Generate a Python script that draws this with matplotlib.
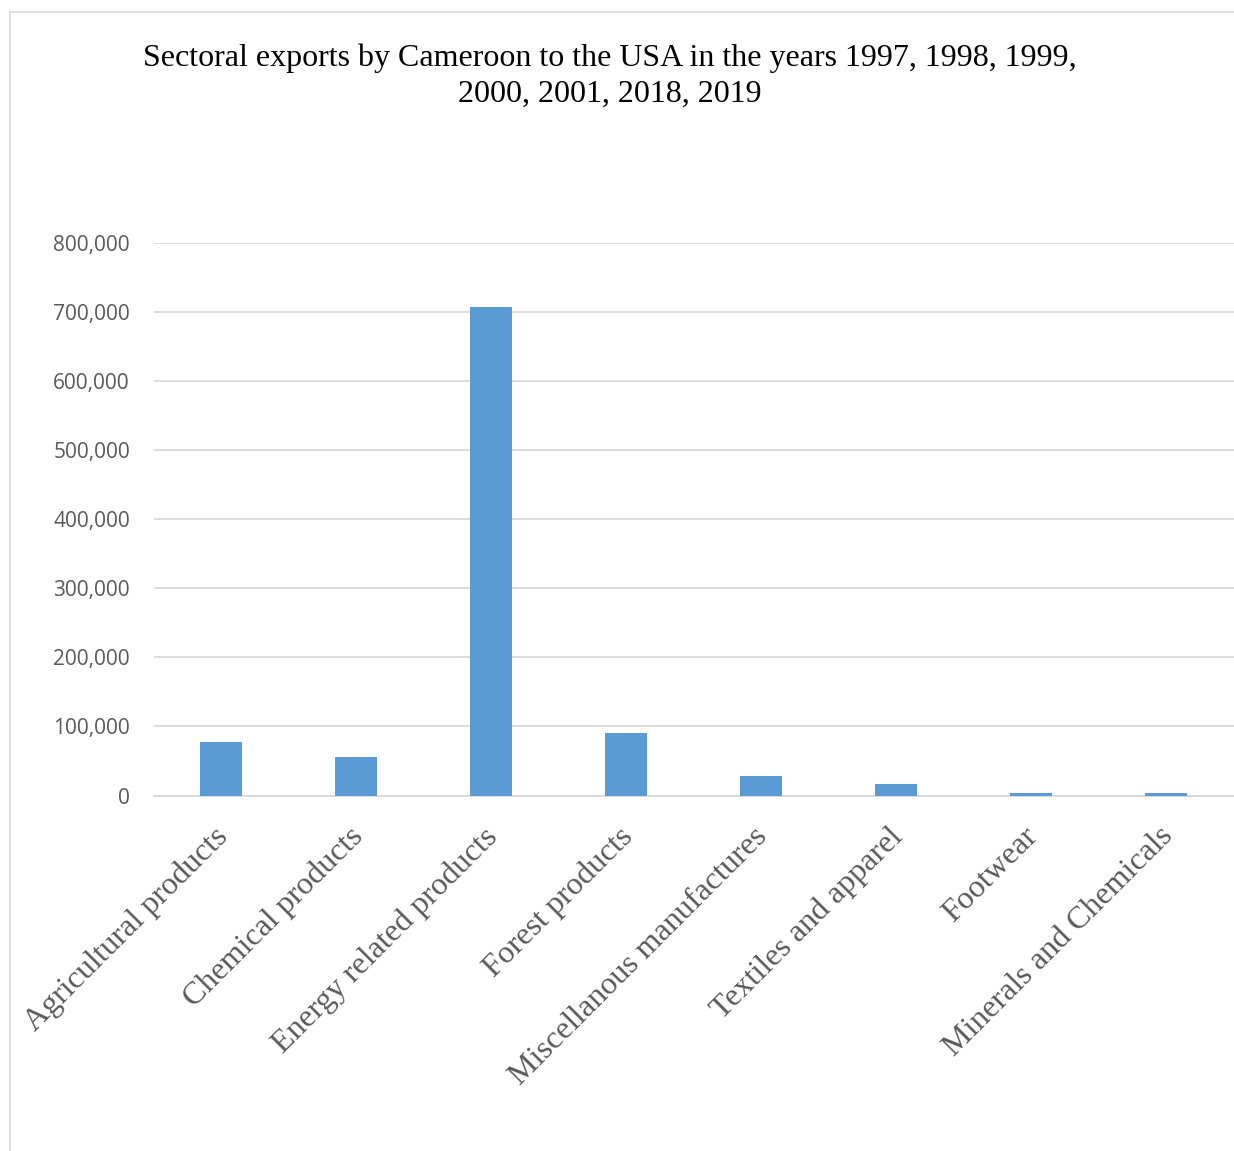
import matplotlib.pyplot as plt
import matplotlib.transforms as mtransforms
import numpy as np
from matplotlib.patches import Rectangle
from matplotlib.ticker import FuncFormatter

sectors = ["Agricultural products", "Chemical products", "Energy related products",
           "Forest products", "Miscellanous manufactures", "Textiles and apparel",
           "Footwear", "Minerals and Chemicals"]
exports = [77400, 55700, 706800, 90400, 28900, 17000, 3300, 3600]
y_ticks = [0, 100000, 200000, 300000, 400000, 500000, 600000, 700000, 800000]

title = ("Sectoral exports by Cameroon to the USA in the years 1997, 1998, 1999,\n"
         "2000, 2001, 2018, 2019")

bar_color = "#5B9BD5"
grid_color = "#D9D9D9"
text_color = "#595959"

fig = plt.figure(figsize=(12.34, 11.51), dpi=100)
W, H = 1234, 1151

# chart area border (open on right and bottom edges)
fig.patches.append(Rectangle((10 / W, -0.01), 1.1, 1 - 12 / H + 0.01,
                             transform=fig.transFigure, fill=False,
                             edgecolor=grid_color, linewidth=1.2))

ax = fig.add_axes([153.5 / W, 1 - 795.5 / H, 1080 / W, 553 / H])
x = np.arange(len(sectors))
ax.bar(x, exports, width=0.31, color=bar_color, zorder=3)

ax.set_xlim(-0.5, len(sectors) - 0.5)
ax.set_ylim(0, 800000)
ax.set_yticks(y_ticks)
ax.yaxis.set_major_formatter(FuncFormatter(lambda v, p: f"{int(v):,}"))
ax.grid(axis="y", color=grid_color, linewidth=1.3, zorder=0)
for s in ["top", "right", "left"]:
    ax.spines[s].set_visible(False)
ax.spines["bottom"].set_color(grid_color)
ax.spines["bottom"].set_linewidth(1.3)
ax.tick_params(axis="both", length=0)
ax.tick_params(axis="y", pad=17, labelsize=15, labelcolor=text_color)
for lab in ax.get_yticklabels():
    lab.set_fontfamily("Open Sans")

ax.set_xticks(x)
ax.set_xticklabels(sectors, rotation=45, ha="right", va="top",
                   rotation_mode="anchor", fontfamily="Liberation Serif",
                   fontsize=23, color=text_color)
ax.tick_params(axis="x", pad=19)
shift = mtransforms.ScaledTranslation(-8 / 100, 0, fig.dpi_scale_trans)
for lab in ax.get_xticklabels():
    lab.set_transform(lab.get_transform() + shift)

fig.text(610 / W, 1 - 76 / H, title, ha="center", va="center",
         fontfamily="Liberation Serif", fontsize=23, color="black",
         linespacing=1.33)

fig.savefig("out.png", dpi=100)
